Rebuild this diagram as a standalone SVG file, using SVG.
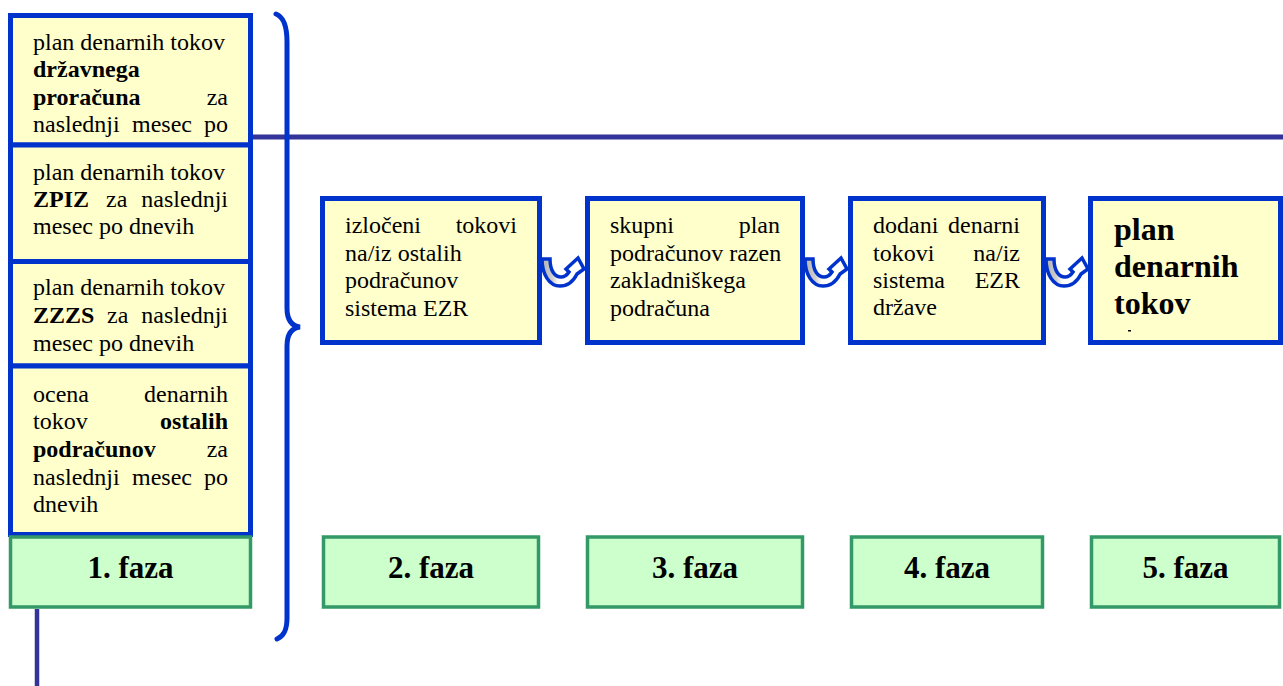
<svg xmlns="http://www.w3.org/2000/svg" width="1283" height="686" viewBox="0 0 1283 686">
<style>
  .yb{fill:#FFFFCC;stroke:#0033CC;stroke-width:5}
  .gb{fill:#CCFFCC;stroke:#339966;stroke-width:3.5}
  .t{font-family:"Liberation Serif","Times New Roman",serif;font-size:24px;fill:#000}
  .b{font-weight:bold}
  .ph{font-family:"Liberation Serif","Times New Roman",serif;font-size:31px;font-weight:bold;fill:#000;text-anchor:middle}
  .big{font-family:"Liberation Serif","Times New Roman",serif;font-size:32px;font-weight:bold;fill:#000}
  .ln{stroke:#333399;fill:none}
  .br{stroke:#0033CC;stroke-width:5;fill:none;stroke-linecap:round}
  .ua{fill:url(#ug);stroke:#0033CC;stroke-width:3.5;stroke-linejoin:miter}
</style>
<defs>
  <linearGradient id="ug" x1="0" y1="0" x2="1" y2="0">
    <stop offset="0" stop-color="#B0B0B0"/>
    <stop offset="0.25" stop-color="#D0D0D0"/>
    <stop offset="0.4" stop-color="#FFFFFF"/>
    <stop offset="1" stop-color="#FFFFFF"/>
  </linearGradient>
  <path id="uarrow" class="ua" d="M0,2 L8,2 C8,14 13,20 19,20 C22,20 25,18 27,15 L24,12 L36,1 L42,12 L35,17 C31,25 25,29 18,29 C7,29 0,17 0,2 Z"/>
</defs>

<g id="connectors">
  <line class="ln" x1="253" y1="137" x2="1283" y2="137" stroke-width="5"/>
  <line class="ln" x1="37" y1="609" x2="37" y2="686" stroke-width="4.5"/>
  <path class="br" d="M276,14 C284,17 287,26 287,42 L287,308 C287,320 292,326 300,327 C292,328 287,334 287,346 L287,618 C287,630 284,636 277,639"/>
  <use href="#uarrow" x="542" y="257"/>
  <use href="#uarrow" x="805" y="257"/>
  <use href="#uarrow" x="1046" y="257"/>
</g>

<g id="box1a">
  <rect class="yb" x="10.5" y="15.5" width="240" height="129.5"/>
  <text class="t" x="33" y="50">plan denarnih tokov</text>
  <text class="t b" x="33" y="77">državnega</text>
  <text class="t" y="105"><tspan class="b" x="33">proračuna</tspan></text>
  <text class="t" x="228" y="105" text-anchor="end">za</text>
  <text class="t" y="132"><tspan x="33">naslednji</tspan><tspan x="132">mesec</tspan></text>
  <text class="t" x="228" y="132" text-anchor="end">po</text>
</g>

<g id="box1b">
  <rect class="yb" x="10.5" y="145" width="240" height="116.5"/>
  <text class="t" x="33" y="180">plan denarnih tokov</text>
  <text class="t" y="207"><tspan class="b" x="33">ZPIZ</tspan><tspan x="106">za</tspan></text>
  <text class="t" x="228" y="207" text-anchor="end">naslednji</text>
  <text class="t" x="33" y="234">mesec po dnevih</text>
</g>

<g id="box1c">
  <rect class="yb" x="10.5" y="261.5" width="240" height="104.5"/>
  <text class="t" x="33" y="295">plan denarnih tokov</text>
  <text class="t" y="323"><tspan class="b" x="33">ZZZS</tspan><tspan x="107">za</tspan></text>
  <text class="t" x="228" y="323" text-anchor="end">naslednji</text>
  <text class="t" x="33" y="351">mesec po dnevih</text>
</g>

<g id="box1d">
  <rect class="yb" x="10.5" y="366" width="240" height="168.5"/>
  <text class="t" x="33" y="402">ocena</text>
  <text class="t" x="228" y="402" text-anchor="end">denarnih</text>
  <text class="t" x="33" y="429">tokov</text>
  <text class="t b" x="228" y="429" text-anchor="end">ostalih</text>
  <text class="t b" x="33" y="457">podračunov</text>
  <text class="t" x="228" y="457" text-anchor="end">za</text>
  <text class="t" y="485"><tspan x="33">naslednji</tspan><tspan x="132">mesec</tspan></text>
  <text class="t" x="228" y="485" text-anchor="end">po</text>
  <text class="t" x="33" y="512">dnevih</text>
</g>

<g id="phase1">
  <rect class="gb" x="10.5" y="537" width="240" height="70"/>
  <text class="ph" x="130.5" y="578">1. faza</text>
</g>

<g id="box2">
  <rect class="yb" x="322.5" y="198.5" width="217" height="144"/>
  <text class="t" x="345" y="233">izločeni</text>
  <text class="t" x="517" y="233" text-anchor="end">tokovi</text>
  <text class="t" x="345" y="261">na/iz ostalih</text>
  <text class="t" x="345" y="288">podračunov</text>
  <text class="t" x="345" y="316">sistema EZR</text>
</g>

<g id="box3">
  <rect class="yb" x="587.5" y="198.5" width="215" height="144"/>
  <text class="t" x="610" y="233">skupni</text>
  <text class="t" x="780" y="233" text-anchor="end">plan</text>
  <text class="t" x="610" y="261">podračunov razen</text>
  <text class="t" x="610" y="288">zakladniškega</text>
  <text class="t" x="610" y="316">podračuna</text>
</g>

<g id="box4">
  <rect class="yb" x="850.5" y="198.5" width="193" height="144"/>
  <text class="t" x="873" y="233">dodani</text>
  <text class="t" x="1020" y="233" text-anchor="end">denarni</text>
  <text class="t" x="873" y="261">tokovi</text>
  <text class="t" x="1020" y="261" text-anchor="end">na/iz</text>
  <text class="t" x="873" y="288">sistema</text>
  <text class="t" x="1020" y="288" text-anchor="end">EZR</text>
  <text class="t" x="873" y="315">države</text>
</g>

<g id="box5">
  <rect class="yb" x="1090.5" y="198.5" width="190" height="144"/>
  <text class="big" x="1114" y="240">plan</text>
  <text class="big" x="1114" y="277">denarnih</text>
  <text class="big" x="1114" y="314">tokov</text>
  <rect x="1128" y="330" width="3" height="1.5" fill="#000"/>
</g>

<g id="phase2">
  <rect class="gb" x="323.5" y="537" width="215" height="70"/>
  <text class="ph" x="431" y="578">2. faza</text>
</g>
<g id="phase3">
  <rect class="gb" x="587.5" y="537" width="215" height="70"/>
  <text class="ph" x="695" y="578">3. faza</text>
</g>
<g id="phase4">
  <rect class="gb" x="851.5" y="537" width="191" height="70"/>
  <text class="ph" x="947" y="578">4. faza</text>
</g>
<g id="phase5">
  <rect class="gb" x="1091.5" y="537" width="188" height="70"/>
  <text class="ph" x="1185.5" y="578">5. faza</text>
</g>
</svg>
